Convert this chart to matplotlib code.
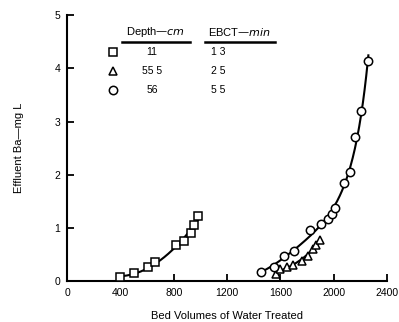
import numpy as np
import matplotlib.pyplot as plt
from matplotlib.lines import Line2D

# bed depth 11 cm, EBCT 1.3 min
sq_x = [395, 500, 610, 660, 820, 880, 930, 955, 980]
sq_y = [0.07, 0.15, 0.26, 0.35, 0.67, 0.76, 0.91, 1.06, 1.22]

# bed depth 55.5 cm, EBCT 2.5 min
tri_x = [1565, 1600, 1650, 1695, 1760, 1805, 1845, 1870, 1895]
tri_y = [0.14, 0.23, 0.27, 0.31, 0.38, 0.47, 0.60, 0.68, 0.77]

# bed depth 56 cm, EBCT 5.5 min
circ_x = [1455, 1550, 1630, 1705, 1820, 1905, 1960, 1985, 2010, 2080, 2125, 2160, 2205, 2260]
circ_y = [0.18, 0.27, 0.47, 0.57, 0.96, 1.08, 1.17, 1.27, 1.37, 1.84, 2.05, 2.70, 3.20, 4.13]

legend_depth = ["11", "55 5", "56"]
legend_ebct = ["1 3", "2 5", "5 5"]
legend_markers = ["s", "^", "o"]

x_ticks = [0, 400, 800, 1200, 1600, 2000, 2400]
y_ticks = [0, 1, 2, 3, 4, 5]

plt.rcParams['font.family'] = ['Liberation Sans', 'DejaVu Sans']


def fit_curve(x, y, deg, log=False):
    x = np.asarray(x, float)
    y = np.asarray(y, float)
    xs = np.linspace(x.min(), x.max(), 200)
    if log:
        c = np.polyfit(x, np.log(y), deg)
        return xs, np.exp(np.polyval(c, xs))
    c = np.polyfit(x, y, deg)
    return xs, np.polyval(c, xs)


def main():
    fig = plt.figure(figsize=(3.99, 3.22), dpi=100)
    ax = fig.add_axes([0.168, 0.127, 0.802, 0.826])

    mk = dict(color='black', markerfacecolor='white', markeredgecolor='black',
              markeredgewidth=1.1, markersize=6, linestyle='none', zorder=3)

    for xs, ys, m, deg, lg in [(sq_x, sq_y, 's', 2, False),
                               (tri_x, tri_y, '^', 2, True),
                               (circ_x, circ_y, 'o', 3, True)]:
        cx, cy = fit_curve(xs, ys, deg, lg)
        ax.plot(cx, cy, color='black', lw=1.5, zorder=2)
        ax.plot(xs, ys, marker=m, **mk)

    ax.set_xlim(0, 2400)
    ax.set_ylim(0, 5)
    ax.set_xticks(x_ticks)
    ax.set_yticks(y_ticks)
    ax.tick_params(direction='in', length=5, width=1.3, labelsize=7.5, pad=5)
    for s in ['top', 'right']:
        ax.spines[s].set_visible(False)
    for s in ['left', 'bottom']:
        ax.spines[s].set_linewidth(1.5)
    ax.set_xlabel('Bed Volumes of Water Treated', fontsize=8, labelpad=9)
    ax.set_ylabel('Effluent Ba\u2014mg L', fontsize=8, labelpad=22)

    # legend table
    ax.text(0.278, 0.936, 'Depth\u2014$\\it{cm}$', transform=ax.transAxes,
            ha='center', va='center', fontsize=8)
    ax.text(0.54, 0.936, 'EBCT\u2014$\\it{min}$', transform=ax.transAxes,
            ha='center', va='center', fontsize=8)
    ax.add_line(Line2D([0.172, 0.384], [0.898, 0.898], transform=ax.transAxes,
                       color='black', lw=1.8))
    ax.add_line(Line2D([0.431, 0.65], [0.898, 0.898], transform=ax.transAxes,
                       color='black', lw=1.8))
    rows_y = [0.861, 0.789, 0.718]
    for yy, m, d, e in zip(rows_y, legend_markers, legend_depth, legend_ebct):
        ax.plot([0.144], [yy], marker=m, transform=ax.transAxes, clip_on=False, **mk)
        ax.text(0.266, yy, d, transform=ax.transAxes, ha='center', va='center', fontsize=7.5)
        ax.text(0.472, yy, e, transform=ax.transAxes, ha='center', va='center', fontsize=7.5)

    fig.savefig('out.png', dpi=100)


if __name__ == '__main__':
    main()
